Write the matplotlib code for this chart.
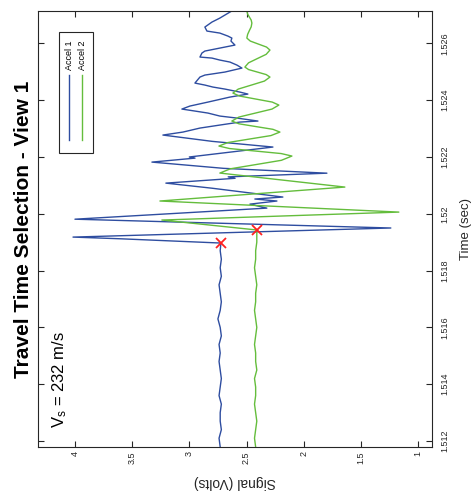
import numpy as np
import matplotlib
matplotlib.use('Agg')
import matplotlib.pyplot as plt
from matplotlib.patches import Rectangle

plt.rcParams['font.family'] = ['Liberation Sans', 'DejaVu Sans']

# Accel 1 trace (time in s, signal in V)
accel1_t = [1.51179, 1.5121, 1.5124, 1.5127, 1.5130, 1.5133, 1.5136, 1.5139,
            1.5142, 1.5145, 1.5148, 1.5151, 1.5154, 1.5157, 1.5160, 1.5163,
            1.5166, 1.5169, 1.5172, 1.5175, 1.5178, 1.5181, 1.5184, 1.5187,
            1.51897, 1.51912, 1.51918, 1.51950, 1.51981, 1.52020, 1.52034,
            1.52045, 1.52052, 1.52059, 1.52090, 1.52108, 1.52125, 1.52130,
            1.52143, 1.52160, 1.52182, 1.52196, 1.52200, 1.52235, 1.52255,
            1.522772, 1.522877, 1.523018, 1.523124, 1.523229, 1.523265,
            1.52337, 1.523441, 1.523546, 1.523617, 1.523687, 1.523793,
            1.523933, 1.524109, 1.524215, 1.524285, 1.524391, 1.524462,
            1.524532, 1.524602, 1.524814, 1.524884, 1.52499, 1.52513,
            1.525236, 1.525342, 1.525412, 1.525482, 1.525518, 1.525658,
            1.525729, 1.525834, 1.52594, 1.526081, 1.526186, 1.526257,
            1.526362, 1.526433, 1.526574, 1.52675, 1.52689, 1.526996,
            1.527137]
accel1_v = [2.73, 2.74, 2.72, 2.73, 2.73, 2.72, 2.74, 2.73,
            2.72, 2.73, 2.74, 2.73, 2.74, 2.72, 2.73, 2.75,
            2.73, 2.72, 2.73, 2.74, 2.72, 2.73, 2.72, 2.73,
            2.724, 3.60, 4.017, 1.238, 4.00, 2.322, 2.470,
            2.234, 2.427, 2.182, 2.80, 3.205, 2.60, 2.66,
            1.797, 2.70, 3.327, 2.95, 3.00, 2.269, 2.80,
            3.231, 3.056, 2.907, 2.733, 2.558, 2.400,
            2.584, 2.733, 2.837, 2.951, 3.065, 2.995,
            2.837, 2.645, 2.488, 2.558, 2.689, 2.794,
            2.864, 2.951, 2.907, 2.864, 2.689, 2.540,
            2.584, 2.645, 2.733, 2.802, 2.907, 2.890,
            2.864, 2.733, 2.601, 2.636, 2.628, 2.663,
            2.733, 2.846, 2.864, 2.802, 2.733, 2.689,
            2.630]

# Accel 2 trace
accel2_t = [1.51179, 1.5121, 1.5124, 1.5127, 1.5130, 1.5133, 1.5136, 1.5139,
            1.5142, 1.5145, 1.5148, 1.5151, 1.5154, 1.5157, 1.5160, 1.5163,
            1.5166, 1.5169, 1.5172, 1.5175, 1.5178, 1.5181, 1.5184, 1.5187,
            1.5190, 1.51943, 1.51978, 1.52006, 1.52045, 1.520941, 1.521434,
            1.521584, 1.521733, 1.521883, 1.522033, 1.522121, 1.522209,
            1.522297, 1.522385, 1.522508, 1.522631, 1.522754, 1.522877,
            1.522974, 1.523071, 1.523168, 1.523265, 1.523405, 1.523546,
            1.523687, 1.523828, 1.523933, 1.524039, 1.524145, 1.52425,
            1.524391, 1.524532, 1.524673, 1.524814, 1.524901, 1.52499,
            1.525078, 1.525166, 1.525315, 1.525465, 1.525614, 1.525764,
            1.52587, 1.525975, 1.526081, 1.526186, 1.526318, 1.52645,
            1.526582, 1.526714, 1.52682, 1.526926, 1.527031, 1.527137]
accel2_v = [2.42, 2.43, 2.42, 2.41, 2.42, 2.43, 2.42, 2.42,
            2.43, 2.41, 2.42, 2.42, 2.43, 2.42, 2.41, 2.42,
            2.43, 2.42, 2.42, 2.41, 2.42, 2.43, 2.42, 2.42,
            2.41, 2.41, 3.240, 1.168, 3.257, 1.640, 2.733,
            2.641, 2.418, 2.195, 2.103, 2.197, 2.422,
            2.648, 2.741, 2.663, 2.475, 2.286, 2.208,
            2.269, 2.418, 2.566, 2.628, 2.567, 2.422,
            2.277, 2.217, 2.275, 2.418, 2.560, 2.619,
            2.572, 2.457, 2.343, 2.295, 2.328, 2.405,
            2.482, 2.514, 2.482, 2.405, 2.328, 2.295,
            2.325, 2.396, 2.467, 2.497, 2.490, 2.475,
            2.459, 2.453, 2.459, 2.475, 2.490, 2.497]

# picked arrival times
pick_t = [1.51897, 1.51943]
pick_v = [2.724, 2.41]

vs_text = r'$\mathregular{V_s}$ = 232 m/s'
blue = '#2e4da0'
green = '#64bd3c'
dark = '#262626'

fig = plt.figure(figsize=(4.74, 4.97), dpi=100)
ax = fig.add_axes([0.0802, 0.1006, 0.8312, 0.8773])

ax.plot(accel1_v, accel1_t, color=blue, lw=1.0)
ax.plot(accel2_v, accel2_t, color=green, lw=1.0)
ax.plot(pick_v, pick_t, 'x', color='#ff2020', ms=7, mew=1.3, ls='none')

ax.set_xlim(4.323, 0.878)
ax.set_ylim(1.51179, 1.52714)

xt = [1, 1.5, 2, 2.5, 3, 3.5, 4]
ax.set_xticks(xt)
ax.set_xticklabels(['1', '1.5', '2', '2.5', '3', '3.5', '4'], rotation=90)
yt = [1.512, 1.514, 1.516, 1.518, 1.52, 1.522, 1.524, 1.526]
ax.set_yticks(yt)
ax.set_yticklabels(['1.512', '1.514', '1.516', '1.518', '1.52', '1.522', '1.524', '1.526'],
                   rotation=90, va='center')

ax.tick_params(direction='in', length=4, width=0.8, colors=dark, labelsize=6.5,
               top=True, bottom=True, left=True, right=True,
               labelleft=False, labelright=True)
ax.tick_params(axis='x', pad=3)
ax.tick_params(axis='y', pad=6)
for s in ax.spines.values():
    s.set_color(dark)
    s.set_linewidth(0.8)

ax.set_xlabel('Signal (Volts)', fontsize=10, rotation=180, color=dark, va='center')
ax.xaxis.set_label_coords(0.5, -0.080)
ax.set_ylabel('Time (sec)', fontsize=9.5, rotation=90, color=dark, va='center', ha='center')
ax.yaxis.set_label_position('right')
ax.yaxis.set_label_coords(1.070, 0.5)

fig.text(24 / 474, 1 - 229 / 497, 'Travel Time Selection - View 1', rotation=90,
         fontsize=15, fontweight='bold', ha='center', va='center')

ax.text(4.13, 1.51246, vs_text, rotation=90, fontsize=12, ha='center', va='bottom')

# legend box drawn by hand because it is rotated
ax.add_patch(Rectangle((0.053, 0.674), 0.087, 0.278, transform=ax.transAxes,
                       fill=True, facecolor='white', edgecolor=dark, lw=0.8, zorder=5))
ax.plot([0.0787, 0.0787], [0.704, 0.853], color=blue, lw=1.0, transform=ax.transAxes, zorder=6)
ax.plot([0.1117, 0.1117], [0.704, 0.853], color=green, lw=1.0, transform=ax.transAxes, zorder=6)
ax.text(0.0787, 0.865, 'Accel 1', rotation=90, fontsize=6.5, ha='center', va='bottom',
        transform=ax.transAxes, zorder=6)
ax.text(0.1117, 0.865, 'Accel 2', rotation=90, fontsize=6.5, ha='center', va='bottom',
        transform=ax.transAxes, zorder=6)

fig.savefig('out.png', dpi=100)
